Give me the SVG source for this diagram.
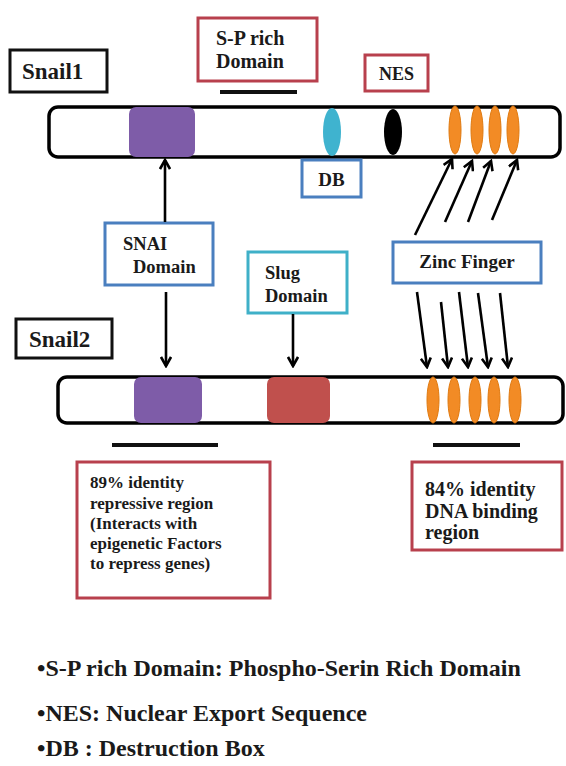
<svg xmlns="http://www.w3.org/2000/svg" width="566" height="766" viewBox="0 0 566 766">
<defs>
<style>
text{font-family:'Liberation Serif','DejaVu Serif',serif;font-weight:bold;fill:#1a1a1a;}
.lbl{stroke:#111;stroke-width:3;fill:#fff;}
.red{stroke:#b8404d;stroke-width:3;fill:#fff;}
.blue{stroke:#4a7fbf;stroke-width:3;fill:#fff;}
.cyan{stroke:#3fb0c8;stroke-width:3;fill:#fff;}
.bar{stroke:#000;stroke-width:3.5;fill:#fff;}
.purple{fill:#7e5ca8;}
.orange{fill:#f28b25;stroke:#e07a10;stroke-width:1;}
.ul{stroke:#111;stroke-width:4;}
.arr{stroke:#000;stroke-width:2.6;fill:none;marker-end:url(#ah);}
</style>
<marker id="ah" viewBox="0 0 12 12" refX="10" refY="6" markerWidth="12" markerHeight="12" markerUnits="userSpaceOnUse" orient="auto">
<path d="M1,1 L10,6 L1,11" fill="none" stroke="#000" stroke-width="2.6"/>
</marker>
</defs>
<rect width="566" height="766" fill="#fff"/>
<g font-family="Liberation Serif, DejaVu Serif, serif" font-weight="bold">
<g id="snail1-label"><rect class="lbl" x="10" y="50" width="97" height="42"/><text x="22" y="79" font-size="23">Snail1</text></g>
<g id="sp-rich"><rect class="red" x="198" y="18" width="119" height="63"/><text x="216" y="45" font-size="20">S-P rich</text><text x="216" y="68" font-size="20">Domain</text></g>
<line class="ul" x1="220" y1="92" x2="297" y2="92"/>
<g id="nes"><rect class="red" x="365" y="55" width="63" height="36"/><text x="396.5" y="80" font-size="18" text-anchor="middle">NES</text></g>

<g id="snail1-bar">
<rect class="bar" x="49" y="107" width="511" height="50" rx="9"/>
<rect class="purple" x="129" y="107" width="66" height="50" rx="7"/>
<ellipse cx="332" cy="132" rx="9" ry="24" fill="#3fb3cf"/>
<ellipse cx="393" cy="132" rx="9" ry="23" fill="#000"/>
<ellipse class="orange" cx="455" cy="130" rx="6" ry="24"/>
<ellipse class="orange" cx="477" cy="130" rx="6" ry="24"/>
<ellipse class="orange" cx="495" cy="130" rx="6" ry="24"/>
<ellipse class="orange" cx="513" cy="130" rx="6" ry="24"/>
</g>
<g id="db"><rect class="blue" x="302" y="160" width="59" height="37"/><text x="331.5" y="186" font-size="19" text-anchor="middle">DB</text></g>

<g id="snai"><rect class="blue" x="105" y="223" width="108" height="62"/><text x="123" y="250" font-size="18.5">SNAI</text><text x="133" y="273" font-size="18.5">Domain</text></g>
<g id="slug"><rect class="cyan" x="248" y="252" width="99" height="61"/><text x="265" y="279" font-size="18.5">Slug</text><text x="265" y="302" font-size="18.5">Domain</text></g>
<g id="zinc"><rect class="blue" x="393" y="242" width="148" height="41"/><text x="467" y="268" font-size="19" text-anchor="middle">Zinc Finger</text></g>
<g id="snail2-label"><rect class="lbl" x="16" y="319" width="96" height="39"/><text x="29" y="347" font-size="23">Snail2</text></g>

<g id="snail2-bar">
<rect class="bar" x="58" y="377" width="505" height="46" rx="9"/>
<rect class="purple" x="134" y="377" width="68" height="46" rx="7"/>
<rect x="267" y="377" width="63" height="46" rx="7" fill="#c0504d"/>
<ellipse class="orange" cx="433" cy="400" rx="6" ry="23"/>
<ellipse class="orange" cx="454" cy="400" rx="6" ry="23"/>
<ellipse class="orange" cx="475" cy="400" rx="6" ry="23"/>
<ellipse class="orange" cx="494" cy="400" rx="6" ry="23"/>
<ellipse class="orange" cx="515" cy="400" rx="6" ry="23"/>
</g>

<g id="connectors">
<line class="arr" x1="165" y1="222" x2="165" y2="160"/>
<line class="arr" x1="415" y1="235" x2="452" y2="159"/>
<line class="arr" x1="445" y1="222" x2="472" y2="161"/>
<line class="arr" x1="468" y1="222" x2="491" y2="161"/>
<line class="arr" x1="492" y1="220" x2="517" y2="160"/>
<line class="arr" x1="166" y1="292" x2="166" y2="366"/>
<line class="arr" x1="293" y1="314" x2="293" y2="366"/>
<line class="arr" x1="417" y1="292" x2="427" y2="367"/>
<line class="arr" x1="441" y1="302" x2="448" y2="367"/>
<line class="arr" x1="459" y1="292" x2="468" y2="367"/>
<line class="arr" x1="478" y1="293" x2="488" y2="367"/>
<line class="arr" x1="500" y1="293" x2="508" y2="367"/>
</g>

<line class="ul" x1="112" y1="445" x2="218" y2="445"/>
<line class="ul" x1="433" y1="445" x2="520" y2="445"/>

<g id="identity89"><rect class="red" x="77" y="462" width="193" height="136"/>
<text font-size="17"><tspan x="90" y="488">89% identity</tspan><tspan x="90" y="509">repressive region</tspan><tspan x="90" y="529">(Interacts with</tspan><tspan x="90" y="549">epigenetic Factors</tspan><tspan x="90" y="569">to repress genes)</tspan></text></g>
<g id="identity84"><rect class="red" x="412" y="462" width="150" height="88"/>
<text font-size="20"><tspan x="425" y="496">84% identity</tspan><tspan x="425" y="518">DNA binding</tspan><tspan x="425" y="539">region</tspan></text></g>

<g id="legend">
<text x="37" y="676" font-size="24">•S-P  rich Domain: Phospho-Serin Rich Domain</text>
<text x="37" y="721" font-size="24">•NES: Nuclear Export Sequence</text>
<text x="37" y="756" font-size="24">•DB : Destruction Box</text>
</g>
</g>
</svg>
